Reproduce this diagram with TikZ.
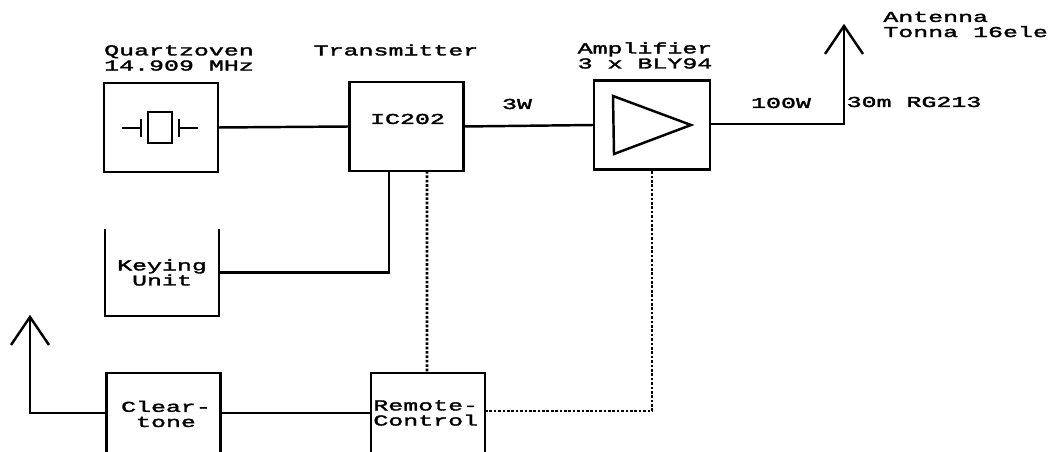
\documentclass[tikz,border=0pt]{standalone}
\usepackage{fontspec}
\newfontfamily\plotfont[FakeStretch=1.65,FakeBold=2.2]{Liberation Mono}
\tikzset{
    blockbox/.style={draw, line width=1.6pt, minimum width=2.28cm, minimum height=1.78cm, outer sep=0pt},
    openbox/.style={align=center, minimum width=2.28cm, minimum height=1.74cm, outer sep=0pt},
    wire/.style={line width=1.4pt},
    ctrlwire/.style={line width=1.5pt, densely dotted},
    caption/.style={align=center, inner sep=0pt}
}
\begin{document}
\begin{tikzpicture}[x=0.02cm, y=-0.02cm, every node/.style={font=\plotfont\fontsize{8.6}{8.6}\selectfont}]
    \clip (0,0) rectangle (1048,452);
    % blocks
    \node[blockbox] (quartz) at (161,127.5) {};
    \node[blockbox] (ic) at (406.5,126.5) {};
    \node[blockbox, minimum width=2.32cm] (amp) at (652,125) {};
    \node[openbox] (keying) at (162,272.5) {Keying\\Unit};
    \node[blockbox] (clear) at (163.5,417.5) {};
    \node[blockbox] (remote) at (428,417.5) {};
    \draw[line width=1.6pt] (keying.north west) -- (keying.south west) -- (keying.south east) -- (keying.north east);

    % block texts
    \node[caption] (ictext) at (407.5,119) {IC202};
    \node[caption] (cleartext) at (166,414) {Clear-\\tone};
    \node[caption, align=left, anchor=west] (remotetext) at (373,413) {Remote-\\Control};
    \node[caption] (quartztext) at (179,58) {Quartzoven\\14.909 MHz};
    \node[caption] (txtext) at (396,50) {Transmitter};
    \node[caption] (amptext) at (645,55.5) {Amplifier\\3 x BLY94};
    \node[caption, align=left, anchor=west] (anttext) at (883,24.5) {Antenna\\Tonna 16ele};
    \node[caption] (lowtext) at (517,104) {3W};
    \node[caption] (hightext) at (781,103) {100W};
    \node[caption] (cabletext) at (914,102) {30m RG213};

    % crystal
    \coordinate (xtalin) at (122,128);
    \coordinate (xtalout) at (198,128);
    \draw[wire] (xtalin) -- (141,128);
    \draw[wire] (141,119) -- (141,137);
    \draw[wire] (148,112) rectangle (172,143);
    \draw[wire] (179,119) -- (179,137);
    \draw[wire] (179,128) -- (xtalout);

    % amplifier triangle
    \draw[wire] (613,96) -- (691,125) -- (614,154) -- cycle;

    % antennas
    \coordinate (anttip) at (844,26);
    \coordinate (rxtip) at (30,317);
    \foreach \tip in {anttip,rxtip}{
        \draw[wire] ([xshift=-0.38cm,yshift=-0.56cm]\tip) -- (\tip) -- ([xshift=0.38cm,yshift=-0.56cm]\tip);
    }

    % connections
    \draw[wire] (quartz.east) -- (ic.west);
    \draw[wire] (ic.east) -- (amp.west);
    \draw[wire] ([yshift=0.02cm]amp.east) -| (anttip);
    \draw[wire] (keying.east) -| ([xshift=-0.35cm]ic.south);
    \draw[wire] ([yshift=0.09cm]clear.west) -| (rxtip);
    \draw[wire] ([yshift=0.09cm]clear.east) -- ([yshift=0.09cm]remote.west);
    \draw[ctrlwire] ([xshift=0.41cm]ic.south) -- ([xshift=-0.02cm]remote.north);
    \draw[ctrlwire] ([yshift=0.13cm]remote.east) -| (amp.south);
\end{tikzpicture}
\end{document}
